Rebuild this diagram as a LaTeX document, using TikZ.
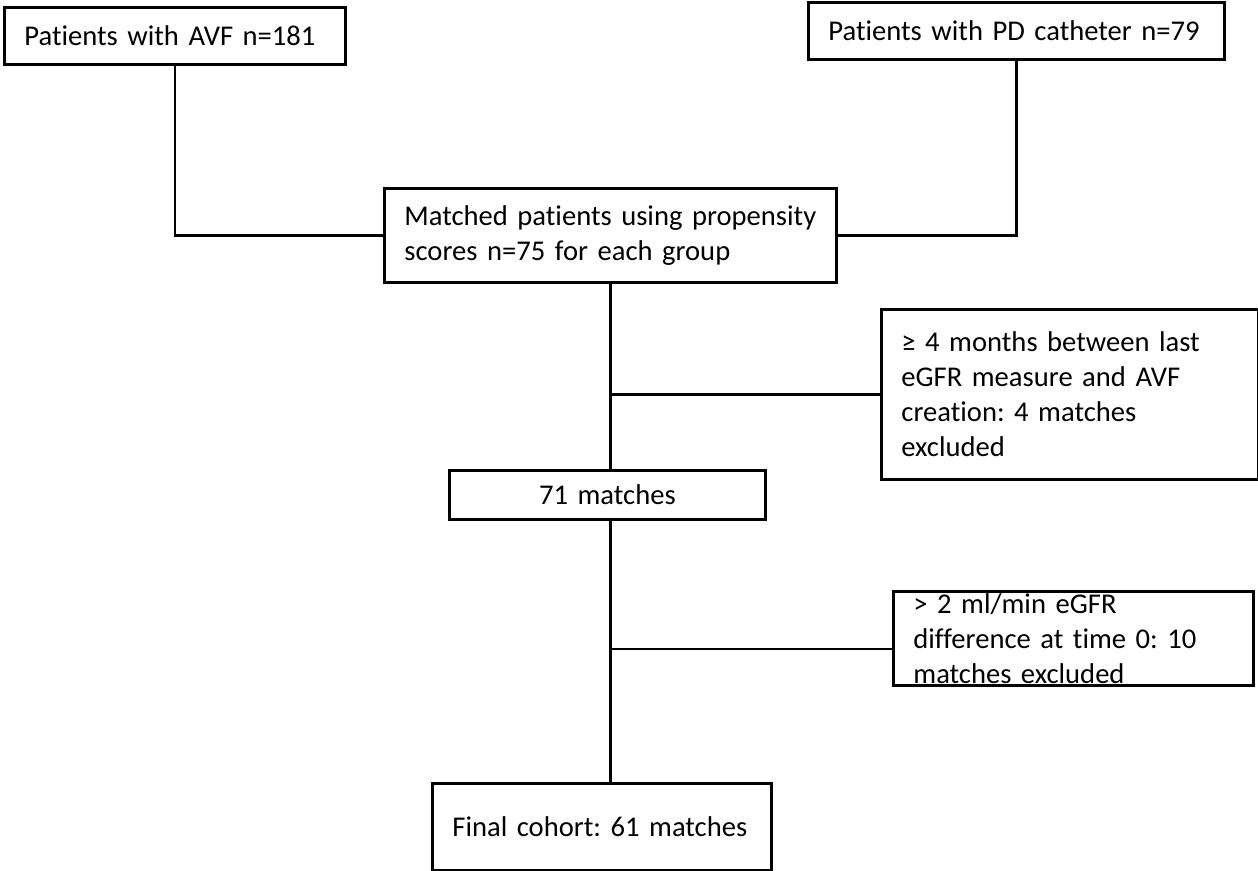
\documentclass[tikz,border=0pt]{standalone}
\usepackage{fontspec}
\setmainfont{Carlito}[Ligatures={NoCommon,NoContextual}]
\usepackage{tikz}
\usetikzlibrary{positioning}
\frenchspacing

\begin{document}
\begin{tikzpicture}[
    x=0.5pt,y=-0.5pt,
    box/.style={draw=black,rectangle,anchor=north west,align=left,
      inner xsep=10pt,inner ysep=0pt,line width=1.4pt,
      font=\fontsize{14.3}{17.5}\selectfont},
    link/.style={draw=black,line width=1.3pt}
  ]
  \useasboundingbox (0,0) rectangle (1258,871);
  % inputs
  \node[box,text width=150.5pt,minimum height=28.5pt] (avf) at (3,6) {\mbox{Patients with AVF n=181}};
  \node[box,text width=188pt,minimum height=28.5pt] (pd) at (807,1) {\mbox{Patients with PD catheter n=79}};
  \node[box,text width=206pt,minimum height=47pt] (matched) at (383,187)
    {\mbox{Matched patients using propensity}\\\mbox{scores n=75 for each group}};
  % exclusions
  \node[box,text width=168.5pt,minimum height=85pt] (excl1) at (880,308)
    {\mbox{≥ 4 months between last}\\\mbox{eGFR measure and AVF}\\\mbox{creation: 4 matches}\\excluded};
  \node[box,align=center,text width=138pt,minimum height=24.5pt] (m71) at (448,469) {71 matches};
  \node[box,text width=160pt,minimum height=47pt] (excl2) at (892,590)
    {\mbox{> 2 ml/min eGFR}\\\mbox{difference at time 0: 10}\\\mbox{matches excluded}};
  \node[box,text width=149.5pt,minimum height=43.5pt] (final) at (431,782) {\mbox{Final cohort: 61 matches}};
  % connectors
  \draw[link] (avf.south) |- (matched.west);
  \draw[link] (pd.south) |- (matched.east);
  \draw[link] (matched.south) -- (m71.north -| matched.south);
  \draw[link] (excl1.west) -- (excl1.west -| matched.south);
  \draw[link] (m71.south -| matched.south) -- (final.north -| matched.south);
  \coordinate (cut2) at (610,649);
  \draw[link] (cut2) -- (cut2 -| excl2.west);
\end{tikzpicture}
\end{document}
